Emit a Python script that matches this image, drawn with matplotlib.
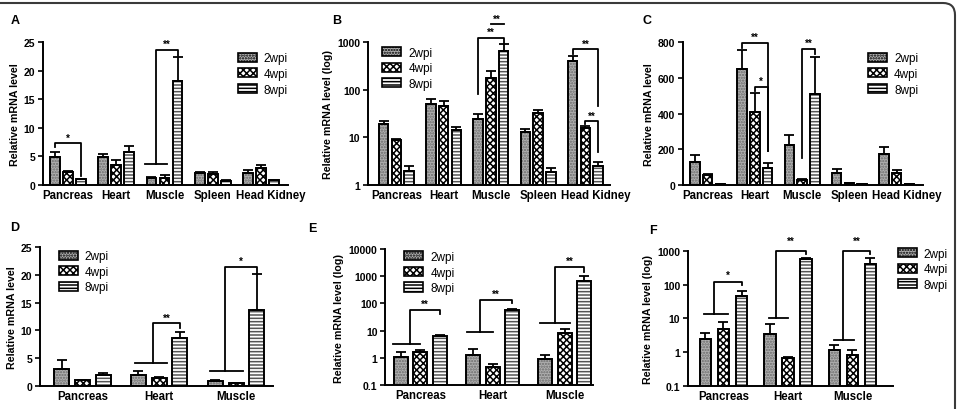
import numpy as np
import matplotlib.pyplot as plt
from matplotlib.patches import FancyBboxPatch, Patch
from matplotlib.transforms import ScaledTranslation

plt.rcParams['font.family'] = ['Liberation Sans', 'DejaVu Sans']
plt.rcParams['hatch.linewidth'] = 1.1

series = ['2wpi', '4wpi', '8wpi']
tissues5 = ['Pancreas', 'Heart', 'Muscle', 'Spleen', 'Head Kidney']
tissues3 = ['Pancreas', 'Heart', 'Muscle']

# panel A (linear)
a_mean = [[4.9, 4.9, 1.3, 2.1, 2.1],
          [2.3, 3.5, 1.3, 2.0, 3.0],
          [1.0, 5.7, 18.1, 0.7, 0.9]]
a_err = [[0.9, 0.5, 0.1, 0.2, 0.5],
         [0.2, 0.8, 0.4, 0.2, 0.5],
         [0.1, 1.2, 4.2, 0.1, 0.05]]
# panel B (log)
b_mean = [[19, 50, 24, 13, 400],
          [8.7, 46, 180, 32, 16],
          [2.0, 14.2, 650, 1.9, 2.5]]
b_err = [[3, 15, 7, 2, 110],
         [0.6, 11, 67, 5, 1],
         [0.5, 2.4, 240, 0.4, 0.6]]
# panel C (linear)
c_mean = [[130, 647, 224, 65, 175],
          [57, 408, 26, 11, 65],
          [6, 97, 511, 3, 3]]
c_err = [[40, 107, 58, 23, 38],
         [5, 109, 6, 3, 17],
         [1, 28, 207, 0.5, 0.5]]
# panel D (linear)
d_mean = [[3.0, 2.0, 0.85],
          [1.08, 1.4, 0.45],
          [2.0, 8.7, 13.7]]
d_err = [[1.7, 0.7, 0.15],
         [0.05, 0.2, 0.05],
         [0.4, 1.1, 6.4]]
# panel E (log)
e_mean = [[1.04, 1.3, 0.9],
          [1.59, 0.45, 8.4],
          [6.2, 57, 650]]
e_err = [[0.55, 0.9, 0.37],
         [0.4, 0.14, 3.0],
         [0.9, 7, 350]]
# panel F (log)
f_mean = [[2.5, 3.5, 1.17],
          [5.0, 0.66, 0.83],
          [46, 570, 420]]
f_err = [[1.1, 3.2, 0.43],
         [3.0, 0.06, 0.34],
         [19, 60, 210]]

styles = [
    dict(fc='#b0b0b0', hc='#6a6a6a', hatch='......'),
    dict(fc='white', hc='black', hatch='xxxxx'),
    dict(fc='white', hc='#555555', hatch='-----'),
]


def draw_bars(ax, means, errs, width, off):
    n = len(means[0])
    x = np.arange(n)
    for i, st in enumerate(styles):
        xi = x + (i - 1) * off
        ax.bar(xi, means[i], width, color=st['fc'], edgecolor=st['hc'],
               hatch=st['hatch'], linewidth=0, zorder=2)
        ax.bar(xi, means[i], width, color='none', edgecolor='black',
               linewidth=1.4, zorder=3)
        ax.errorbar(xi, means[i], yerr=[np.zeros(n), errs[i]], fmt='none',
                    ecolor='black', elinewidth=1.3, capsize=3.5, capthick=1.3,
                    zorder=4)


def style_axes(ax, labels, ylabel):
    ax.spines['top'].set_visible(False)
    ax.spines['right'].set_visible(False)
    ax.spines['left'].set_linewidth(1.4)
    ax.spines['bottom'].set_linewidth(1.4)
    ax.set_xticks(np.arange(len(labels)))
    ax.set_xticklabels(labels, fontsize=8.3, fontweight='bold')
    ax.tick_params(axis='x', length=0, pad=3)
    ax.tick_params(axis='y', labelsize=7.5, width=1.2, length=3.5, pad=2)
    for t in ax.get_yticklabels():
        t.set_fontweight('bold')
    ax.set_ylabel(ylabel, fontsize=7.7, fontweight='bold', labelpad=3)
    ax.minorticks_off()


def shift_last_label(ax, px):
    lbl = ax.get_xticklabels()[-1]
    lbl.set_transform(lbl.get_transform() + ScaledTranslation(px / 100, 0, fig.dpi_scale_trans))


def bracket(ax, base, stem_x, top_y, end_x, end_y, label, label_y, start_y=None):
    kw = dict(color='black', lw=1.3, clip_on=False, zorder=5)
    if base is not None:
        (x0, x1, by) = base
        ax.plot([x0, x1], [by, by], **kw)
        ax.plot([stem_x, stem_x, end_x, end_x], [by, top_y, top_y, end_y], **kw)
    else:
        ax.plot([stem_x, stem_x, end_x, end_x], [start_y, top_y, top_y, end_y], **kw)
    ax.text((stem_x + end_x) / 2, label_y, label, ha='center', va='center',
            fontsize=7, fontweight='bold', clip_on=False)


def legend(ax, loc, anchor):
    handles = [Patch(facecolor=s['fc'], edgecolor='black', hatch=s['hatch'],
                     linewidth=1.2) for s in styles]
    ax.legend(handles, series, loc=loc, bbox_to_anchor=anchor, frameon=False,
              fontsize=8.5, handlelength=1.6, handleheight=0.8, handletextpad=0.6,
              labelspacing=0.3, borderaxespad=0)


fig = plt.figure(figsize=(9.59, 4.10), dpi=100)

# A
ax = fig.add_axes([0.0448, 0.5463, 0.2555, 0.3488])
draw_bars(ax, a_mean, a_err, 0.2, 0.27)
ax.set_ylim(0, 25)
ax.set_yticks([0, 5, 10, 15, 20, 25])
ax.set_xlim(-0.52, 4.56)
style_axes(ax, tissues5, 'Relative mRNA level')
shift_last_label(ax, 10)
bracket(ax, None, -0.27, 7.4, 0.27, 1.5, '*', 8.2, start_y=6.6)
bracket(ax, (1.6, 2.05, 3.6), 1.83, 23.6, 2.27, 22.6, '**', 24.6)
legend(ax, 'upper right', (1.02, 0.96))
ax.text(-0.13, 1.13, 'A', transform=ax.transAxes, fontsize=9, fontweight='bold')

# B
ax = fig.add_axes([0.3837, 0.5463, 0.2523, 0.3488])
draw_bars(ax, b_mean, b_err, 0.2, 0.27)
ax.set_yscale('log')
ax.set_ylim(1, 1000)
ax.set_yticks([1, 10, 100, 1000])
ax.set_yticklabels(['1', '10', '100', '1000'])
ax.set_xlim(-0.6, 4.52)
style_axes(ax, tissues5, 'Relative mRNA level (log)')
shift_last_label(ax, 10)
bracket(ax, None, 1.73, 1240, 2.27, 970, '**', 1600, start_y=80)
ax.plot([2.0, 2.27], [2340, 2340], color='black', lw=1.3, clip_on=False)
ax.text(2.13, 3000, '**', ha='center', va='center', fontsize=7, fontweight='bold')
bracket(ax, None, 3.73, 700, 4.27, 46, '**', 900, start_y=560)
bracket(ax, None, 4.0, 22, 4.27, 5, '**', 28, start_y=19)
legend(ax, 'upper left', (0.04, 1.0))
ax.text(-0.15, 1.13, 'B', transform=ax.transAxes, fontsize=9, fontweight='bold')

# C
ax = fig.add_axes([0.7122, 0.5463, 0.2503, 0.3488])
draw_bars(ax, c_mean, c_err, 0.2, 0.27)
ax.set_ylim(0, 800)
ax.set_yticks([0, 200, 400, 600, 800])
ax.set_xlim(-0.52, 4.56)
style_axes(ax, tissues5, 'Relative mRNA level')
shift_last_label(ax, 10)
bracket(ax, None, 0.73, 797, 1.27, 190, '**', 830, start_y=769)
bracket(ax, None, 1.0, 550, 1.27, 190, '*', 582, start_y=526)
bracket(ax, None, 2.0, 763, 2.27, 731, '**', 797, start_y=153)
legend(ax, 'upper right', (1.0, 0.96))
ax.text(-0.17, 1.13, 'C', transform=ax.transAxes, fontsize=9, fontweight='bold')

# D
ax = fig.add_axes([0.0417, 0.0561, 0.2430, 0.3390])
draw_bars(ax, d_mean, d_err, 0.195, 0.27)
ax.set_ylim(0, 25)
ax.set_yticks([0, 5, 10, 15, 20, 25])
ax.set_xlim(-0.55, 2.48)
style_axes(ax, tissues3, 'Relative mRNA level')
bracket(ax, (0.68, 1.1, 4.1), 0.92, 11.4, 1.27, 10.5, '**', 12.3)
bracket(ax, (1.66, 2.09, 2.7), 1.86, 21.4, 2.27, 20.1, '*', 22.5)
legend(ax, 'upper left', (0.06, 1.01))
ax.text(-0.13, 1.12, 'D', transform=ax.transAxes, fontsize=9, fontweight='bold')

# E
ax = fig.add_axes([0.4015, 0.0585, 0.2169, 0.3317])
draw_bars(ax, e_mean, e_err, 0.195, 0.27)
ax.set_yscale('log')
ax.set_ylim(0.1, 10000)
ax.set_yticks([0.1, 1, 10, 100, 1000, 10000])
ax.set_yticklabels(['0.1', '1', '10', '100', '1000', '10000'])
ax.set_xlim(-0.49, 2.39)
style_axes(ax, tissues3, 'Relative mRNA level (log)')
bracket(ax, (-0.38, 0.0, 3.2), -0.15, 57, 0.27, 41, '**', 95)
bracket(ax, (0.64, 1.01, 8.6), 0.82, 137, 1.27, 100, '**', 230)
bracket(ax, (1.66, 2.07, 18.5), 1.86, 2130, 2.27, 1480, '**', 3700)
legend(ax, 'upper left', (0.07, 1.02))
ax.text(-0.37, 1.13, 'E', transform=ax.transAxes, fontsize=9, fontweight='bold')

# F
ax = fig.add_axes([0.7174, 0.0561, 0.2138, 0.3293])
draw_bars(ax, f_mean, f_err, 0.18, 0.28)
ax.set_yscale('log')
ax.set_ylim(0.1, 1000)
ax.set_yticks([0.1, 1, 10, 100, 1000])
ax.set_yticklabels(['0.1', '1', '10', '100', '1000'])
ax.set_xlim(-0.55, 2.63)
style_axes(ax, tissues3, 'Relative mRNA level (log)')
bracket(ax, (-0.3, 0.07, 13.3), -0.15, 124, 0.28, 96, '*', 195)
bracket(ax, (0.7, 1.0, 10), 0.82, 1000, 1.28, 800, '**', 1990)
bracket(ax, (1.72, 2.03, 2.25), 1.85, 1000, 2.28, 800, '**', 1990)
legend(ax, 'upper left', (1.0, 1.06))
ax.text(-0.19, 1.13, 'F', transform=ax.transAxes, fontsize=9, fontweight='bold')

# rounded outer frame
frame = FancyBboxPatch((-0.2, -0.3), 9.75, 4.36, boxstyle='round,pad=0,rounding_size=0.12',
                       transform=fig.dpi_scale_trans, facecolor='none',
                       edgecolor='#3a3a3a', linewidth=1.5)
fig.patches.append(frame)

fig.savefig('out.png', dpi=100)
